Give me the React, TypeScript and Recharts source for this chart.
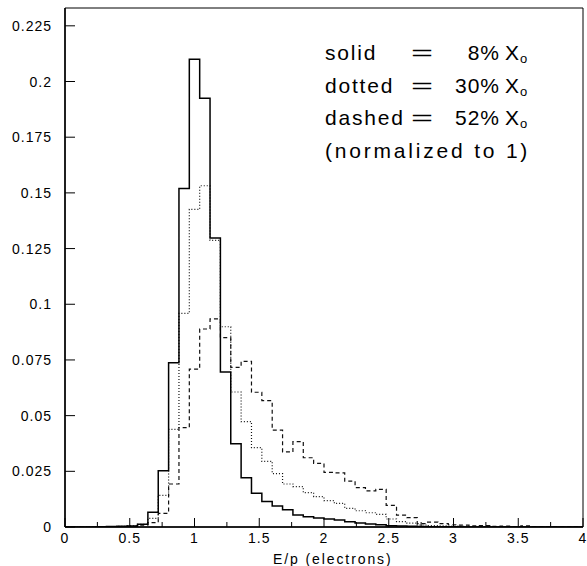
import React from "react";
import { ComposedChart, Line, XAxis, YAxis, ReferenceArea } from "recharts";

const binCount = 50;
const binWidth = 0.08;
const binEdges: number[] = Array.from({ length: binCount + 1 }, (_, i) => +(i * binWidth).toFixed(2));

// 8% X0
const solid = [
  0, 0, 0, 0.0001, 0.0002, 0.0003, 0.0005, 0.0012, 0.0066, 0.0253,
  0.0737, 0.152, 0.21, 0.1925, 0.1297, 0.0696, 0.0374, 0.0221, 0.0152, 0.0115,
  0.0094, 0.0077, 0.0054, 0.0046, 0.004, 0.0036, 0.0031, 0.0024, 0.0018, 0.0013,
  0.001, 0.0006, 0.0004, 0.0003, 0.0002, 0.0001, 0.0001, 0.0001, 0, 0,
  0, 0, 0, 0, 0, 0, 0, 0, 0, 0,
];
// 30% X0
const dotted = [
  0, 0, 0, 0.0001, 0.0002, 0.0003, 0.0005, 0.0012, 0.0039, 0.0142,
  0.0438, 0.0959, 0.1426, 0.1532, 0.1287, 0.0899, 0.0606, 0.0473, 0.0356, 0.0295,
  0.024, 0.0193, 0.0181, 0.0154, 0.0136, 0.0118, 0.0106, 0.0084, 0.0073, 0.0064,
  0.0057, 0.0036, 0.0024, 0.0017, 0.0009, 0.0006, 0.0005, 0.0004, 0.0003, 0.0002,
  0.0002, 0.0001, 0.0001, 0.0001, 0.0001, 0, 0, 0, 0, 0,
];
// 52% X0
const dashed = [
  0, 0, 0, 0.0001, 0.0001, 0.0002, 0.0003, 0.0008, 0.002, 0.0061,
  0.0193, 0.0446, 0.0709, 0.0889, 0.0934, 0.085, 0.0717, 0.0744, 0.0605, 0.0567,
  0.0435, 0.0337, 0.0383, 0.0311, 0.0286, 0.0245, 0.0243, 0.0206, 0.0177, 0.0162,
  0.0169, 0.0097, 0.0053, 0.0042, 0.0015, 0.0022, 0.0015, 0.001, 0.0008, 0.0005,
  0.0006, 0.0003, 0.0004, 0.0002, 0.0005, 0.0002, 0.0002, 0.0001, 0.0001, 0.0001,
];

const xTicks = [0, 0.25, 0.5, 0.75, 1, 1.25, 1.5, 1.75, 2, 2.25, 2.5, 2.75, 3, 3.25, 3.5, 3.75, 4];
const yTicks = [0, 0.025, 0.05, 0.075, 0.1, 0.125, 0.15, 0.175, 0.2, 0.225];
const yMax = 0.233;

const legendRows = [
  { name: "solid", value: "8%" },
  { name: "dotted", value: "30%" },
  { name: "dashed", value: "52%" },
];
const normNote = "(normalized to 1)";
const xTitle = "E/p (electrons)";

const FONT = "'Liberation Sans', Arial, Helvetica, sans-serif";

const table = binEdges.map((x, i) => ({
  x,
  solid: i < binCount ? solid[i] : solid[binCount - 1],
  dotted: i < binCount ? dotted[i] : dotted[binCount - 1],
  dashed: i < binCount ? dashed[i] : dashed[binCount - 1],
}));

const XTick = (props: any) => {
  const { x, y, payload } = props;
  const v = payload.value;
  const major = Math.abs(v * 2 - Math.round(v * 2)) < 1e-6;
  return (
    <g>
      <line x1={x} x2={x} y1={y} y2={y - (major ? 9 : 5)} stroke="#000" strokeWidth={1} />
      {major && (
        <text x={x} y={y + 16} textAnchor="middle" fontFamily={FONT} fontSize={14} letterSpacing={1} fill="#000">
          {String(v)}
        </text>
      )}
    </g>
  );
};

const YTick = (props: any) => {
  const { x, y, payload } = props;
  const v = payload.value;
  return (
    <g>
      <line x1={x} x2={x + 10} y1={y} y2={y} stroke="#000" strokeWidth={1} />
      <text x={x - 13} y={y + 5} textAnchor="end" fontFamily={FONT} fontSize={14} letterSpacing={1} fill="#000">
        {String(v)}
      </text>
    </g>
  );
};

export default function App() {
  return (
    <div style={{ position: "absolute", left: 0, top: 0, width: 587, height: 566, background: "#fff" }}>
      <ComposedChart
        width={587}
        height={566}
        data={table}
        margin={{ top: 8, right: 4, bottom: 9, left: 5 }}
      >
        <XAxis
          dataKey="x"
          type="number"
          domain={[0, 4]}
          ticks={xTicks}
          interval={0}
          height={30}
          tickSize={0}
          tickMargin={0}
          tickLine={false}
          axisLine={{ stroke: "#000", strokeWidth: 1.5 }}
          tick={<XTick />}
          allowDataOverflow
        />
        <YAxis
          type="number"
          domain={[0, yMax]}
          ticks={yTicks}
          interval={0}
          width={60}
          tickSize={0}
          tickMargin={0}
          tickLine={false}
          axisLine={{ stroke: "#000", strokeWidth: 1.5 }}
          tick={<YTick />}
          allowDataOverflow
        />
        <ReferenceArea x1={0} x2={4} y1={0} y2={yMax} fill="none" stroke="#000" strokeWidth={1} ifOverflow="visible" />
        <Line
          dataKey="dashed"
          type="stepAfter"
          stroke="#111"
          strokeWidth={1.2}
          strokeDasharray="4 3"
          dot={false}
          isAnimationActive={false}
        />
        <Line
          dataKey="dotted"
          type="stepAfter"
          stroke="#111"
          strokeWidth={1.2}
          strokeDasharray="1 2"
          dot={false}
          isAnimationActive={false}
        />
        <Line
          dataKey="solid"
          type="stepAfter"
          stroke="#000"
          strokeWidth={1.5}
          dot={false}
          isAnimationActive={false}
        />
      </ComposedChart>
      <svg
        width={587}
        height={566}
        style={{ position: "absolute", left: 0, top: 0, pointerEvents: "none" }}
      >
        <g fontFamily={FONT} fill="#000">
          {legendRows.map((r, i) => {
            const by = 60 + i * 32.5;
            return (
              <g key={r.name}>
                <text x={325} y={by} fontSize={21} letterSpacing={1.8}>{r.name}</text>
                <text x={411} y={by} fontSize={21} textLength={22} lengthAdjust="spacingAndGlyphs">=</text>
                <text x={500} y={by} fontSize={21} letterSpacing={1} textAnchor="end">{r.value}</text>
                <text x={505} y={by} fontSize={21}>
                  X<tspan fontSize={13} dx={1} dy={3}>o</tspan>
                </text>
              </g>
            );
          })}
          <text x={325} y={158} fontSize={21} letterSpacing={2.8}>{normNote}</text>
          <text x={273} y={564} fontSize={14} letterSpacing={1.9}>{xTitle}</text>
        </g>
      </svg>
    </div>
  );
}
